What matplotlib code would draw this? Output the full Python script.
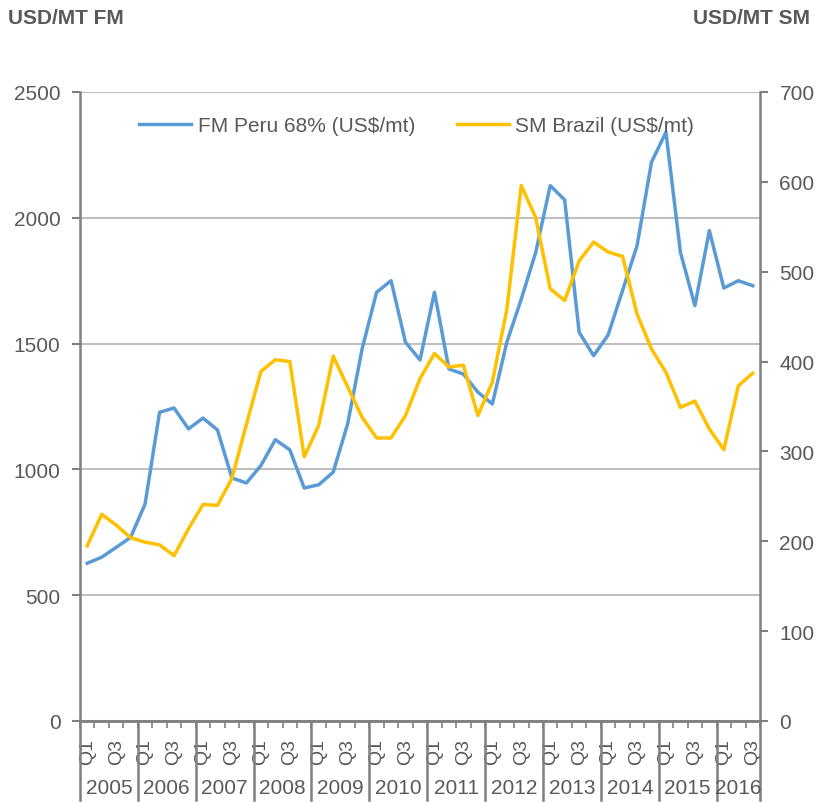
import matplotlib.pyplot as plt
from matplotlib.lines import Line2D
import matplotlib.transforms as mtransforms

# Datos trimestrales 2005 Q1 - 2016 Q3
years = [str(y) for y in range(2005, 2017)]
quarters_per_year = [4] * 11 + [3]

fm_peru = [627, 651, 690, 730, 863, 1227, 1244, 1161, 1204, 1157, 966, 946,
           1015, 1118, 1078, 926, 939, 989, 1181, 1479, 1704, 1750, 1505, 1435,
           1704, 1399, 1379, 1307, 1260, 1505, 1677, 1863, 2128, 2071, 1545, 1452,
           1534, 1711, 1889, 2221, 2340, 1863, 1651, 1949, 1721, 1750, 1730]

sm_brazil = [195, 230, 218, 204, 199, 196, 184, 214, 241, 240, 270, 330,
             389, 402, 400, 294, 329, 406, 372, 338, 315, 315, 340, 381,
             409, 394, 396, 340, 377, 458, 596, 560, 481, 468, 512, 533,
             522, 517, 453, 414, 388, 349, 356, 325, 302, 373, 387]

left_ticks = [0, 500, 1000, 1500, 2000, 2500]
right_ticks = [0, 100, 200, 300, 400, 500, 600, 700]

plt.rcParams['font.family'] = ['Liberation Sans', 'DejaVu Sans']
gris_txt = '#595959'
gris_eje = '#808080'
azul = '#5B9BD5'
amarillo = '#FFC000'

n = len(fm_peru)
x = [i + 0.5 for i in range(n)]

fig = plt.figure(figsize=(8.17, 8.03), dpi=100)
ax = fig.add_axes([80 / 817, 81 / 803, 680 / 817, 629 / 803])
ax2 = ax.twinx()

l1, = ax.plot(x, fm_peru, color=azul, lw=2.5, label='FM Peru 68% (US$/mt)')
l2, = ax2.plot(x, sm_brazil, color=amarillo, lw=2.5, label='SM Brazil (US$/mt)')

ax.set_xlim(0, n)
ax.set_ylim(0, 2500)
ax2.set_ylim(0, 700)
ax.set_yticks(left_ticks)
ax2.set_yticks(right_ticks)
ax.yaxis.grid(True, color='#BFBFBF', lw=1.5)
ax.set_axisbelow(True)

for a in (ax, ax2):
    for s in a.spines.values():
        s.set_color(gris_eje)
        s.set_linewidth(1.8)
    a.spines['top'].set_visible(False)
    a.tick_params(axis='y', colors=gris_eje, labelcolor=gris_txt,
                  labelsize=15, length=6, width=1.5, pad=8)
ax.spines['right'].set_visible(False)
ax2.spines['left'].set_visible(False)

# Eje x: etiquetas Q1 / Q3 y separadores de año
qpos, qlab = [], []
start = 0
bounds = [0]
for nq in quarters_per_year:
    qpos += [start + 0.5, start + 2.5]
    qlab += ['Q1', 'Q3']
    start += nq
    bounds.append(start)
ax.set_xticks(qpos)
ax.set_xticklabels(qlab, rotation=90, color=gris_txt, fontsize=14)
ax.set_xticks(range(n + 1), minor=True)
ax.tick_params(axis='x', which='major', length=0, pad=12)
ax.tick_params(axis='x', which='minor', length=5, width=1.2, color=gris_eje)

trans = mtransforms.blended_transform_factory(ax.transData, ax.transAxes)
for b in bounds:
    ax.add_line(Line2D([b, b], [0, -0.125], transform=trans, color=gris_eje,
                       lw=1.8, clip_on=False))
for i, yr in enumerate(years):
    ax.text((bounds[i] + bounds[i + 1]) / 2, -0.105, yr, transform=trans,
            ha='center', va='center', fontsize=15, color=gris_txt)

# Leyenda
ax.legend(handles=[l1, l2], loc='center', bbox_to_anchor=(0.495, 0.946),
          ncol=2, frameon=False, fontsize=15, handlelength=2.5,
          handletextpad=0.3, columnspacing=2.0, labelcolor=gris_txt)

fig.text(8 / 817, 1 - 18 / 803, 'USD/MT FM', ha='left', va='center',
         fontsize=15, fontweight='bold', color=gris_txt)
fig.text(810 / 817, 1 - 18 / 803, 'USD/MT SM', ha='right', va='center',
         fontsize=15, fontweight='bold', color=gris_txt)

fig.savefig('out.png', dpi=100)
